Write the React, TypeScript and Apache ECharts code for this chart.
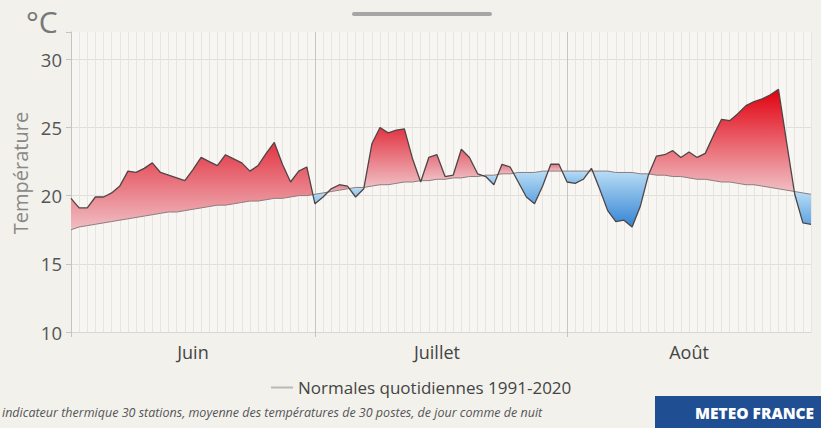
import React, { useEffect, useRef } from 'react';
import * as echarts from 'echarts';

// Categories: days from 1 June to 31 August
const juneDays = Array.from({ length: 30 }, (_, i) => `${i + 1} juin`);
const julyDays = Array.from({ length: 31 }, (_, i) => `${i + 1} juillet`);
const augustDays = Array.from({ length: 31 }, (_, i) => `${i + 1} août`);
const days = [...juneDays, ...julyDays, ...augustDays];

// Daily thermal indicator (°C)
const temperature = [
  // June
  19.8, 19.1, 19.1, 19.9, 19.9, 20.2, 20.7, 21.8, 21.7, 22.0,
  22.4, 21.7, 21.5, 21.3, 21.1, 21.9, 22.8, 22.5, 22.2, 23.0,
  22.7, 22.4, 21.8, 22.2, 23.1, 23.9, 22.3, 21.0, 21.8, 22.1,
  // July
  19.4, 19.9, 20.5, 20.8, 20.7, 19.9, 20.5, 23.8, 25.0, 24.6,
  24.8, 24.9, 22.7, 21.0, 22.8, 23.0, 21.4, 21.5, 23.4, 22.8,
  21.6, 21.4, 20.8, 22.3, 22.1, 21.0, 19.9, 19.4, 20.7, 22.3,
  22.3,
  // August
  21.0, 20.9, 21.2, 22.0, 20.5, 18.9, 18.1, 18.2, 17.7, 19.2,
  21.5, 22.9, 23.0, 23.3, 22.8, 23.2, 22.8, 23.1, 24.4, 25.6,
  25.5, 26.0, 26.6, 26.9, 27.1, 27.4, 27.8, 23.9, 20.1, 18.0,
  17.9,
];

// Daily normals 1991-2020 (°C)
const normals = [
  // June
  17.5, 17.7, 17.8, 17.9, 18.0, 18.1, 18.2, 18.3, 18.4, 18.5,
  18.6, 18.7, 18.8, 18.8, 18.9, 19.0, 19.1, 19.2, 19.3, 19.3,
  19.4, 19.5, 19.6, 19.6, 19.7, 19.8, 19.8, 19.9, 20.0, 20.0,
  // July
  20.1, 20.2, 20.3, 20.4, 20.5, 20.6, 20.6, 20.7, 20.8, 20.8,
  20.9, 21.0, 21.0, 21.1, 21.1, 21.2, 21.2, 21.3, 21.3, 21.4,
  21.4, 21.5, 21.5, 21.6, 21.6, 21.7, 21.7, 21.7, 21.8, 21.8,
  21.8,
  // August
  21.8, 21.8, 21.8, 21.8, 21.8, 21.8, 21.7, 21.7, 21.7, 21.6,
  21.6, 21.5, 21.5, 21.4, 21.4, 21.3, 21.2, 21.2, 21.1, 21.0,
  21.0, 20.9, 20.8, 20.8, 20.7, 20.6, 20.5, 20.4, 20.3, 20.2,
  20.1,
];

const monthLabels = ['Juin', 'Juillet', 'Août'];
const monthLabelIndex = [15, 45, 76];
const monthStartIndex = [30, 61];
const yMin = 10;
const yMax = 32;
const yInterval = 5;

const NORMAL_NAME = 'Normales quotidiennes 1991-2020';
const FONT = '"Open Sans", "Noto Sans", sans-serif';

function hexToRgb(h: string) {
  const v = parseInt(h.slice(1), 16);
  return [(v >> 16) & 255, (v >> 8) & 255, v & 255];
}
function lerpColor(a: string, b: string, t: number) {
  const ca = hexToRgb(a);
  const cb = hexToRgb(b);
  const tt = Math.max(0, Math.min(1, t));
  const c = ca.map((x, i) => Math.round(x + (cb[i] - x) * tt));
  return `rgb(${c[0]},${c[1]},${c[2]})`;
}

export default function App() {
  const ref = useRef<HTMLDivElement>(null);

  useEffect(() => {
    if (!ref.current) return;
    const chart = echarts.init(ref.current, undefined, { renderer: 'svg' });

    const renderItem = (params: any, api: any) => {
      if (params.dataIndex !== 0) return null;
      const n = temperature.length;
      const pa = temperature.map((v, i) => api.coord([i, v]));
      const pn = normals.map((v, i) => api.coord([i, v]));
      const polys: { sign: number; pts: number[][]; maxDev: number }[] = [];
      let sign = temperature[0] >= normals[0] ? 1 : -1;
      let top: number[][] = [pa[0]];
      let bot: number[][] = [pn[0]];
      let maxDev = Math.abs(temperature[0] - normals[0]);
      for (let i = 0; i < n - 1; i++) {
        const d0 = temperature[i] - normals[i];
        const d1 = temperature[i + 1] - normals[i + 1];
        const s1 = d1 > 0 ? 1 : d1 < 0 ? -1 : sign;
        if (s1 === sign) {
          top.push(pa[i + 1]);
          bot.push(pn[i + 1]);
          maxDev = Math.max(maxDev, Math.abs(d1));
        } else {
          const t = d0 / (d0 - d1);
          const c = [
            pa[i][0] + t * (pa[i + 1][0] - pa[i][0]),
            pa[i][1] + t * (pa[i + 1][1] - pa[i][1]),
          ];
          polys.push({ sign, pts: [...top, c, ...bot.slice().reverse()], maxDev });
          sign = s1;
          top = [c, pa[i + 1]];
          bot = [pn[i + 1]];
          maxDev = Math.abs(d1);
        }
      }
      polys.push({ sign, pts: [...top, ...bot.slice().reverse()], maxDev });

      const children = polys.map((p) => {
        let fill: any;
        if (p.sign > 0) {
          const strong = lerpColor('#e27a87', '#e2000f', (p.maxDev - 1) / 5.5);
          fill = new echarts.graphic.LinearGradient(0, 0, 0, 1, [
            { offset: 0, color: strong },
            { offset: 1, color: '#f0bfc4' },
          ]);
        } else {
          const strong = lerpColor('#8dc4ee', '#3383d4', (p.maxDev - 0.5) / 3.5);
          fill = new echarts.graphic.LinearGradient(0, 0, 0, 1, [
            { offset: 0, color: '#b9ddf5' },
            { offset: 1, color: strong },
          ]);
        }
        return {
          type: 'polygon',
          shape: { points: p.pts },
          style: { fill, stroke: 'none' },
        };
      });
      return { type: 'group', children };
    };

    const option: any = {
      animation: false,
      backgroundColor: '#f2f1ec',
      textStyle: { fontFamily: FONT },
      grid: {
        left: 71,
        right: 10,
        top: 32,
        bottom: 96,
        show: true,
        backgroundColor: '#f7f6f3',
        borderWidth: 0,
      },
      legend: {
        top: 374,
        left: 266,
        icon: 'rect',
        itemWidth: 22,
        itemHeight: 2,
        itemGap: 12,
        textStyle: { fontFamily: FONT, fontSize: 17, color: '#444' },
        data: [{ name: NORMAL_NAME, itemStyle: { color: '#b8b8b8' } }],
      },
      xAxis: {
        type: 'category',
        data: days,
        boundaryGap: false,
        axisLine: { show: true, lineStyle: { color: '#d9d8d3', width: 1 } },
        axisTick: {
          show: true,
          length: 5,
          interval: (index: number) => index === 0 || monthStartIndex.includes(index),
          lineStyle: { color: '#c4c4c0' },
        },
        axisLabel: {
          interval: (index: number) => monthLabelIndex.includes(index),
          formatter: (_v: string, index: number) => {
            const k = monthLabelIndex.indexOf(index);
            return k >= 0 ? monthLabels[k] : '';
          },
          fontFamily: FONT,
          fontSize: 18,
          color: '#444',
          margin: 11,
        },
        splitLine: {
          show: true,
          interval: 0,
          lineStyle: { color: '#e6e5e1', width: 1 },
        },
      },
      yAxis: {
        type: 'value',
        min: yMin,
        max: yMax,
        interval: yInterval,
        axisLine: { show: true, lineStyle: { color: '#c4c4c0' } },
        axisTick: { show: true, length: 5, lineStyle: { color: '#c4c4c0' } },
        axisLabel: {
          fontFamily: FONT,
          fontSize: 18.5,
          color: '#555',
          margin: 9,
          formatter: (v: number) => (v % 5 === 0 ? String(v) : ''),
        },
        splitLine: {
          show: true,
          lineStyle: {
            color: ['#dfded9', '#dfded9', '#dfded9', '#dfded9', '#dfded9', 'rgba(0,0,0,0)'],
            width: 1,
          },
        },
      },
      series: [
        {
          type: 'custom',
          name: 'fill',
          coordinateSystem: 'cartesian2d',
          renderItem,
          data: [[0, temperature[0]]],
          silent: true,
          z: 1,
        },
        {
          type: 'line',
          name: 'Température',
          data: temperature,
          showSymbol: false,
          symbol: 'none',
          lineStyle: { color: '#4f4545', width: 1.3 },
          z: 4,
          markLine: {
            silent: true,
            symbol: 'none',
            label: { show: false },
            lineStyle: { color: '#c6c6c2', width: 1, type: 'solid' },
            data: monthStartIndex.map((i) => ({ xAxis: i })),
            z: 0,
          },
        },
        {
          type: 'line',
          name: NORMAL_NAME,
          data: normals,
          showSymbol: false,
          symbol: 'none',
          lineStyle: { color: '#8e7c7c', width: 1 },
          z: 3,
        },
      ],
      graphic: [
        {
          type: 'rect',
          left: 352,
          top: 12,
          shape: { width: 140, height: 4, r: 2 },
          style: { fill: '#a6a6a6' },
        },
        {
          type: 'text',
          x: 26,
          y: 21,
          style: {
            text: '°C',
            fontFamily: FONT,
            fontSize: 30,
            fill: '#777',
            verticalAlign: 'middle',
          },
        },
        {
          type: 'text',
          x: 20,
          y: 173,
          rotation: Math.PI / 2,
          style: {
            text: 'Température',
            fontFamily: FONT,
            fontSize: 20,
            fill: '#888',
            align: 'center',
            verticalAlign: 'middle',
          },
        },
        {
          type: 'text',
          x: 2,
          y: 412,
          style: {
            text: 'indicateur thermique 30 stations, moyenne des températures de 30 postes, de jour comme de nuit',
            fontFamily: FONT,
            fontStyle: 'italic',
            fontSize: 12.5,
            fill: '#555',
            verticalAlign: 'middle',
          },
        },
        {
          type: 'rect',
          x: 655,
          y: 396,
          shape: { width: 170, height: 34 },
          style: { fill: '#1f4e93' },
        },
        {
          type: 'text',
          x: 695,
          y: 413,
          style: {
            text: 'METEO FRANCE',
            fontFamily: FONT,
            fontWeight: 800,
            fontSize: 15.5,
            fill: '#ffffff',
            verticalAlign: 'middle',
          },
        },
      ],
    };

    chart.setOption(option);
    return () => chart.dispose();
  }, []);

  return (
    <div
      ref={ref}
      style={{ position: 'fixed', left: 0, top: 0, width: 821, height: 428 }}
    />
  );
}
